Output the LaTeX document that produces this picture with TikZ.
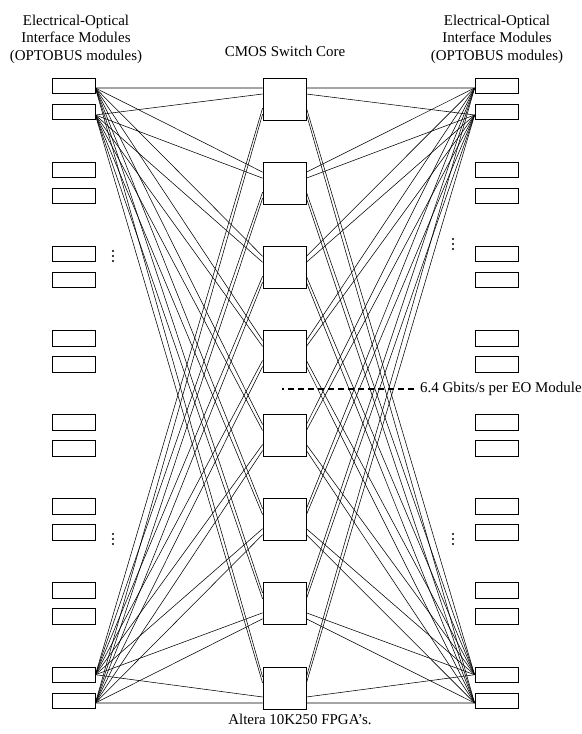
\documentclass[tikz,border=0pt]{standalone}
\usepackage{fontspec}
\setmainfont{Liberation Serif}
\begin{document}
\begin{tikzpicture}[x=1bp,y=-1bp,
  eo/.style={draw, line width=0.8bp, minimum width=43bp, minimum height=15.5bp, inner sep=0pt},
  sw/.style={draw, line width=0.8bp, minimum width=43bp, minimum height=42bp, inner sep=0pt},
  conn/.style={line width=0.55bp},
  lbl/.style={font=\fontsize{15}{17.5}\selectfont, inner sep=0pt, align=center},
  vdot/.style={fill, radius=1.15bp}]
\useasboundingbox (0,0) rectangle (582,734);
\foreach \i in {1,...,8} {
  \pgfmathsetmacro\T{78+84.14*(\i-1)}
  \node[eo] (L\i-a) at (73.5,\T+7.75) {};
  \node[eo] (L\i-b) at (73.5,\T+33.75) {};
  \node[eo] (R\i-a) at (496.5,\T+7.75) {};
  \node[eo] (R\i-b) at (496.5,\T+33.75) {};
  \node[sw] (S\i) at (284.5,\T+21) {};
}
\foreach \k in {1,...,8} {
  \draw[conn] ([yshift=-2.25bp]L1-a.east) -- ([yshift=11bp]S\k.west);
  \draw[conn] ([yshift=-3.25bp]L1-b.east) -- ([yshift=5bp]S\k.west);
  \draw[conn] (L8-a.east) -- ([yshift=-9bp]S\k.west);
  \draw[conn] ([yshift=-2.25bp]L8-b.east) -- ([yshift=-15bp]S\k.west);
  \draw[conn] ([yshift=-2.25bp]R1-a.west) -- ([yshift=11bp]S\k.east);
  \draw[conn] ([yshift=-3.25bp]R1-b.west) -- ([yshift=5bp]S\k.east);
  \draw[conn] (R8-a.west) -- ([yshift=-9bp]S\k.east);
  \draw[conn] ([yshift=-2.25bp]R8-b.west) -- ([yshift=-15bp]S\k.east);
}
\node[lbl] (hl) at (76,39) {Electrical-Optical\\Interface Modules\\(OPTOBUS modules)};
\node[lbl] (hr) at (497,39) {Electrical-Optical\\Interface Modules\\(OPTOBUS modules)};
\node[lbl, anchor=base] (hc) at (285,57) {CMOS Switch Core};
\node[lbl, anchor=base] (hb) at (300,724) {Altera 10K250 FPGA's.};
\node[lbl, anchor=west] (rate) at (420,389) {6.4 Gbits/s per EO Module};
\coordinate (dashend) at (282,389);
\draw[line width=1.1bp, dash pattern=on 6bp off 4bp] ([xshift=-6bp]rate.west) -- (dashend);
\foreach \x/\y in {113/256, 113/539, 453/244, 453/539} {
  \fill[vdot] (\x,\y-5) circle[];
  \fill[vdot] (\x,\y) circle[];
  \fill[vdot] (\x,\y+5) circle[];
}
\end{tikzpicture}
\end{document}
